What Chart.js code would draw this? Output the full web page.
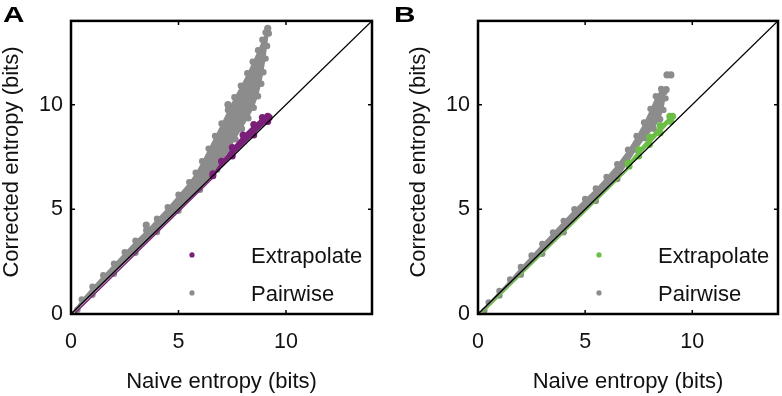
<!DOCTYPE html>
<html>
<head>
<meta charset="utf-8">
<script src="https://cdn.jsdelivr.net/npm/chart.js@4.4.0/dist/chart.umd.min.js"></script>
<style>
  html, body { margin: 0; padding: 0; background: #fff; }
  #wrap { position: relative; width: 782px; height: 396px; }
  .panel { position: absolute; top: 0; width: 391px; height: 396px; }
</style>
</head>
<body>
<div id="wrap">
  <div class="panel" style="left:0"><canvas id="panel-a" width="391" height="396"></canvas></div>
  <div class="panel" style="left:391px"><canvas id="panel-b" width="391" height="396"></canvas></div>
</div>
<script>
const axisTicks = [0, 5, 10];
const axisMax = 14;
const seriesNames = ["Extrapolate", "Pairwise"];
const xTitle = "Naive entropy (bits)";
const yTitle = "Corrected entropy (bits)";
const diagX = [0, 14];
const diagY = [0, 14];

// panel A: outline of the pairwise cloud, outlying dots, extrapolate band
const pairA_x = [0.0, 0.5, 1.0, 1.5, 2.0, 2.5, 3.0, 3.5, 4.0, 4.5, 5.0, 5.5, 5.8, 6.1, 6.4, 6.7, 7.0, 7.3, 7.6, 7.9,
  8.2, 8.45, 8.7, 8.9, 9.05, 9.15, 9.2, 9.12, 9.05, 8.95, 8.85, 8.7, 8.5, 8.25, 7.95, 7.65, 7.35, 6.8,
  6.0, 5.0, 4.0, 3.0, 2.0, 1.0, 0.3];
const pairA_y = [0.0, 0.7, 1.3, 1.85, 2.4, 2.95, 3.5, 4.0, 4.55, 5.1, 5.7, 6.3, 6.75, 7.3, 7.9, 8.5, 9.1, 9.75, 10.35, 10.9,
  11.5, 12.05, 12.6, 13.1, 13.45, 13.6, 13.4, 12.8, 12.2, 11.55, 11.0, 10.4, 9.85, 9.35, 8.85, 8.35, 7.8, 6.9,
  5.93, 4.93, 3.92, 2.92, 1.92, 0.92, 0.2];
const pairA_outX = [3.5, 7.3, 9.15];
const pairA_outY = [4.25, 10.0, 13.65];
const extA_x = [6.6, 7.0, 7.5, 8.0, 8.5, 8.9, 9.15, 9.22, 9.15, 8.5, 7.5, 6.6];
const extA_y = [6.7, 7.3, 7.95, 8.55, 9.05, 9.38, 9.45, 9.38, 9.2, 8.55, 7.55, 6.6];
const extA_lowX = [0.15, 6.7];
const extA_lowY = [0.0, 6.6];

// panel B
const pairB_x = [0.0, 0.5, 1.0, 1.5, 2.0, 2.5, 3.0, 3.5, 4.0, 4.5, 5.0, 5.5, 6.0, 6.5, 7.0, 7.4, 7.75, 8.05, 8.3, 8.55,
  8.7, 8.75, 8.65, 8.5, 8.2, 7.8, 7.4, 7.0, 6.5, 5.5, 4.0, 3.0, 2.0, 1.0, 0.3];
const pairB_y = [0.0, 0.55, 1.1, 1.65, 2.25, 2.8, 3.35, 3.9, 4.45, 5.0, 5.5, 6.0, 6.55, 7.15, 7.85, 8.5, 9.15, 9.8, 10.4, 10.75,
  10.6, 10.3, 9.75, 9.3, 8.85, 8.4, 7.85, 7.2, 6.45, 5.4, 3.9, 2.88, 1.88, 0.88, 0.15];
const pairB_outX = [8.82, 9.0, 8.78];
const pairB_outY = [11.42, 11.42, 10.72];
const extB_x = [7.0, 7.5, 8.0, 8.5, 8.95, 9.08, 9.0, 8.5, 8.0, 7.5, 7.05];
const extB_y = [7.2, 7.85, 8.45, 9.0, 9.45, 9.45, 9.2, 8.65, 8.1, 7.55, 7.06];
const extB_lowX = [0.15, 7.0];
const extB_lowY = [0.0, 6.9];

const GRAY = "#8c8c8c";
const PURPLE = "#7b2079";
const GREEN = "#6cbf46";
const FONT = '"Liberation Sans", Arial, sans-serif';

function toPoints(xs, ys) {
  return xs.map((x, i) => ({ x: x, y: ys[i] }));
}

// fills the outline of a dataset flagged as a cloud, before its dots are drawn
const cloudFill = {
  id: "cloudFill",
  beforeDatasetDraw(chart, args) {
    const ds = chart.data.datasets[args.index];
    if (!ds.cloud) return;
    const pts = args.meta.data;
    const a = chart.chartArea;
    const ctx = chart.ctx;
    ctx.save();
    ctx.beginPath();
    ctx.rect(a.left, a.top, a.right - a.left, a.bottom - a.top);
    ctx.clip();
    ctx.beginPath();
    pts.forEach((p, i) => (i ? ctx.lineTo(p.x, p.y) : ctx.moveTo(p.x, p.y)));
    ctx.closePath();
    ctx.fillStyle = ds.backgroundColor;
    ctx.fill();
    ctx.restore();
  }
};

const panelDecor = {
  id: "panelDecor",
  afterDatasetsDraw(chart, args, opts) {
    const ctx = chart.ctx;
    const a = chart.chartArea;
    const sx = chart.scales.x, sy = chart.scales.y;
    ctx.save();
    // frame with inward ticks
    ctx.strokeStyle = "#000";
    ctx.lineWidth = 2.5;
    ctx.strokeRect(a.left, a.top, a.right - a.left, a.bottom - a.top);
    ctx.lineWidth = 1.5;
    ctx.beginPath();
    axisTicks.forEach(v => {
      const px = sx.getPixelForValue(v), py = sy.getPixelForValue(v);
      ctx.moveTo(px, a.bottom); ctx.lineTo(px, a.bottom - 4);
      ctx.moveTo(px, a.top); ctx.lineTo(px, a.top + 4);
      ctx.moveTo(a.left, py); ctx.lineTo(a.left + 4, py);
      ctx.moveTo(a.right, py); ctx.lineTo(a.right - 4, py);
    });
    ctx.stroke();

    // legend inside the axes
    ctx.font = "22px " + FONT;
    ctx.textAlign = "left";
    ctx.textBaseline = "middle";
    const rows = [opts.extColor, GRAY];
    rows.forEach((c, i) => {
      const y = a.top + 234 + i * 38;
      ctx.fillStyle = c;
      ctx.beginPath();
      ctx.arc(a.left + 121, y, 2.6, 0, Math.PI * 2);
      ctx.fill();
      ctx.fillStyle = "#111";
      ctx.fillText(seriesNames[i], a.left + 180, y + 2);
    });

    // axis titles
    ctx.textAlign = "center";
    ctx.fillText(xTitle, (a.left + a.right) / 2, 382);
    ctx.save();
    ctx.translate(a.left - 59, 162);
    ctx.rotate(-Math.PI / 2);
    ctx.fillText(yTitle, 0, 0);
    ctx.restore();

    // panel letter
    ctx.save();
    ctx.font = "bold 22px " + FONT;
    ctx.textAlign = "left";
    ctx.translate(opts.letterX, 16);
    ctx.scale(1.35, 1);
    ctx.fillStyle = "#000";
    ctx.fillText(opts.letter, 0, 0);
    ctx.restore();
    ctx.restore();
  }
};

function makePanel(id, letter, letterX, yWidth, padRight, extColor, pair, pairOut, ext, extLow) {
  const axis = (isY) => ({
    type: "linear",
    min: 0,
    max: axisMax,
    grid: { display: false, drawTicks: false },
    border: { display: false },
    ticks: { color: "#111", font: { family: FONT, size: 21.5 }, padding: isY ? 8 : 15 },
    afterBuildTicks: (s) => { s.ticks = axisTicks.map(v => ({ value: v })); },
    afterFit: (s) => { if (isY) s.width = yWidth; else s.height = 82; }
  });
  return new Chart(document.getElementById(id), {
    type: "scatter",
    data: {
      datasets: [
        {
          label: "y = x",
          data: toPoints(diagX, diagY),
          showLine: true,
          borderColor: "#000",
          borderWidth: 1.3,
          pointRadius: 0
        },
        {
          label: seriesNames[0],
          data: toPoints(ext[0], ext[1]),
          cloud: true,
          backgroundColor: extColor,
          pointRadius: 3.5,
          pointBorderWidth: 0,
          pointBackgroundColor: extColor
        },
        {
          label: seriesNames[0] + " (low)",
          data: toPoints(extLow[0], extLow[1]),
          showLine: true,
          borderColor: extColor,
          borderWidth: 1.4,
          pointRadius: 0
        },
        {
          label: seriesNames[1] + " (outliers)",
          data: toPoints(pairOut[0], pairOut[1]),
          pointRadius: 3.6,
          pointBorderWidth: 0,
          pointBackgroundColor: GRAY
        },
        {
          label: seriesNames[1],
          data: toPoints(pair[0], pair[1]),
          cloud: true,
          backgroundColor: GRAY,
          pointRadius: 3.2,
          pointBorderWidth: 0,
          pointBackgroundColor: GRAY
        }
      ]
    },
    options: {
      responsive: false,
      animation: false,
      events: [],
      layout: { padding: { left: 0, top: 14, right: padRight, bottom: 0 } },
      scales: { x: axis(false), y: axis(true) },
      plugins: {
        legend: { display: false },
        tooltip: { enabled: false },
        panelDecor: { letter: letter, letterX: letterX, extColor: extColor }
      }
    },
    plugins: [cloudFill, panelDecor]
  });
}

makePanel("panel-a", "A", 3, 71, 19, PURPLE,
  [pairA_x, pairA_y], [pairA_outX, pairA_outY], [extA_x, extA_y], [extA_lowX, extA_lowY]);
makePanel("panel-b", "B", 3, 87, 4, GREEN,
  [pairB_x, pairB_y], [pairB_outX, pairB_outY], [extB_x, extB_y], [extB_lowX, extB_lowY]);
</script>
</body>
</html>
